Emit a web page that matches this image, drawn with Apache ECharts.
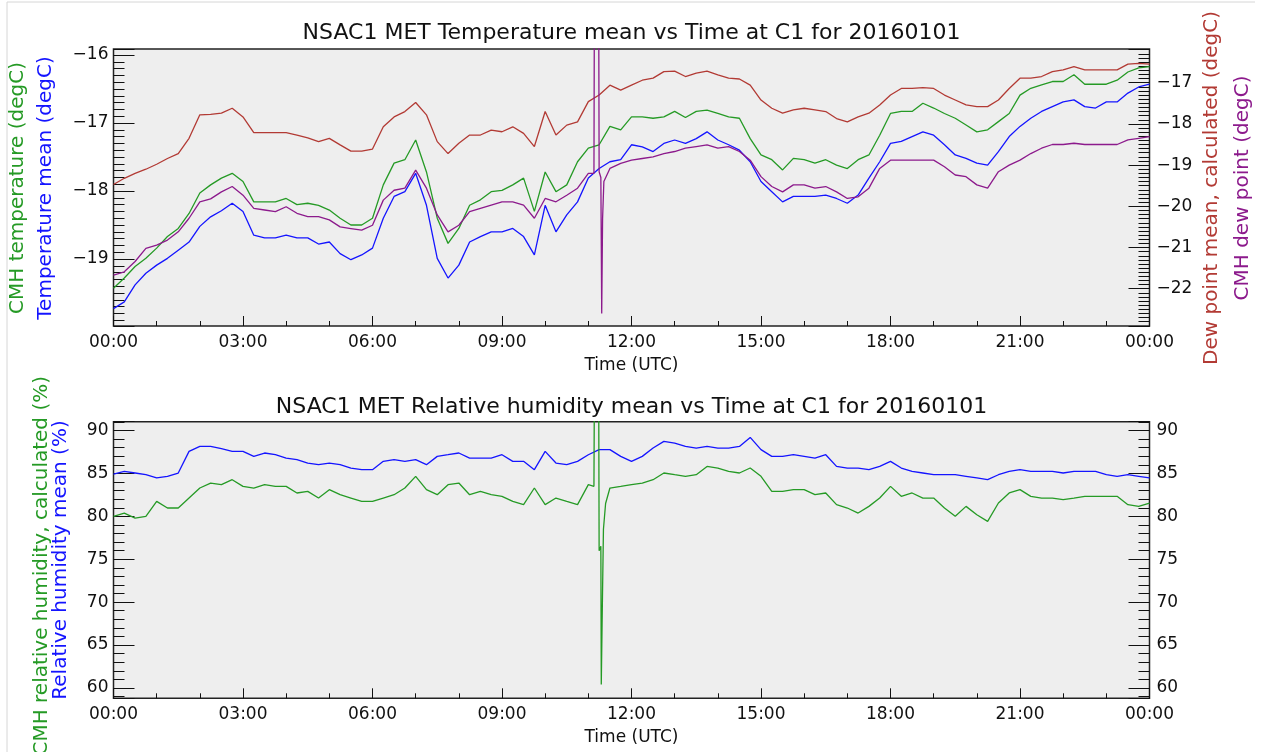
<!DOCTYPE html>
<html>
<head>
<meta charset="utf-8">
<title>NSAC1 MET 20160101</title>
<script src="https://cdn.jsdelivr.net/npm/echarts@6/dist/echarts.min.js"></script>
<style>
    html, body { margin: 0; padding: 0; background: #fff; }
    #main { width: 1263px; height: 752px; }
</style>
</head>
<body>
<div id="main"></div>
<script>
// one sample every 15 minutes, 00:00 .. 24:00
var STEP = 0.25;

// top panel, left axis (degC)
var tempCMH = [
    -19.43, -19.28, -19.11, -18.99, -18.84, -18.67, -18.55, -18.33, -18.03, -17.91, -17.81, -17.74,
    -17.86, -18.16, -18.16, -18.16, -18.11, -18.20, -18.18, -18.21, -18.28, -18.40, -18.50, -18.50,
    -18.40, -17.91, -17.59, -17.54, -17.25, -17.72, -18.40, -18.77, -18.55, -18.21,
    -18.13, -18.01, -17.99, -17.91, -17.81, -18.30, -17.72, -18.01, -17.91, -17.57, -17.37, -17.32,
    -17.05, -17.10, -16.91, -16.91, -16.93, -16.91, -16.83, -16.92, -16.83, -16.81, -16.86, -16.91,
    -16.93, -17.23, -17.47, -17.54, -17.69, -17.52, -17.54, -17.59,
    -17.54, -17.62, -17.67, -17.54, -17.47, -17.18, -16.86, -16.83, -16.83, -16.71, -16.78, -16.86,
    -16.93, -17.03, -17.13, -17.10, -16.98, -16.86, -16.59, -16.49, -16.44, -16.39, -16.39, -16.29,
    -16.43, -16.43, -16.43, -16.37, -16.25, -16.19, -16.17
];
var tempMean = [
    -19.73, -19.63, -19.38, -19.21, -19.09, -18.99, -18.87, -18.75, -18.52, -18.38, -18.29, -18.18,
    -18.30, -18.65, -18.69, -18.69, -18.65, -18.69, -18.69, -18.78, -18.75, -18.92, -19.01, -18.94,
    -18.84, -18.40, -18.08, -18.01, -17.74, -18.21, -18.99, -19.28, -19.09, -18.75,
    -18.67, -18.60, -18.60, -18.55, -18.67, -18.94, -18.21, -18.60, -18.35, -18.16, -17.81, -17.67,
    -17.57, -17.54, -17.32, -17.35, -17.42, -17.30, -17.25, -17.30, -17.23, -17.13, -17.25, -17.32,
    -17.40, -17.57, -17.86, -18.01, -18.16, -18.08, -18.08, -18.08,
    -18.06, -18.11, -18.18, -18.06, -17.81, -17.57, -17.30, -17.27, -17.20, -17.13, -17.18, -17.32,
    -17.47, -17.52, -17.59, -17.62, -17.42, -17.20, -17.05, -16.93, -16.83, -16.76, -16.69, -16.66,
    -16.76, -16.78, -16.69, -16.69, -16.56, -16.47, -16.43
];

// top panel, right axis (degC)
var dewMean = [
    -19.47, -19.32, -19.20, -19.10, -18.98, -18.84, -18.72, -18.35, -17.78, -17.77, -17.74, -17.62,
    -17.83, -18.21, -18.21, -18.21, -18.21, -18.27, -18.34, -18.43, -18.35, -18.51, -18.66, -18.66,
    -18.61, -18.07, -17.83, -17.70, -17.48, -17.78, -18.43, -18.72, -18.47, -18.27,
    -18.27, -18.15, -18.19, -18.07, -18.23, -18.55, -17.70, -18.27, -18.03, -17.95, -17.46, -17.30,
    -17.06, -17.18, -17.06, -16.94, -16.89, -16.73, -16.72, -16.85, -16.77, -16.72, -16.81, -16.89,
    -16.91, -17.06, -17.42, -17.62, -17.74, -17.66, -17.62, -17.66,
    -17.70, -17.87, -17.95, -17.83, -17.74, -17.54, -17.30, -17.14, -17.14, -17.12, -17.14, -17.30,
    -17.42, -17.54, -17.58, -17.58, -17.42, -17.14, -16.89, -16.89, -16.85, -16.73, -16.69, -16.61,
    -16.69, -16.69, -16.69, -16.69, -16.55, -16.53, -16.55
];
var dewCMH = [
    -21.67, -21.59, -21.34, -21.02, -20.94, -20.82, -20.62, -20.29, -19.89, -19.82, -19.65, -19.52,
    -19.73, -20.05, -20.09, -20.13, -20.01, -20.17, -20.25, -20.25, -20.33, -20.50, -20.54, -20.58,
    -20.46, -19.85, -19.61, -19.56, -19.12, -19.56, -20.21, -20.62, -20.46, -20.13,
    -20.05, -19.97, -19.89, -19.89, -19.97, -20.29, -19.81, -19.89, -19.73, -19.56, -19.20, -19.16,
    -19.08, -18.96, -18.88, -18.84, -18.80, -18.72, -18.67, -18.59, -18.55, -18.51, -18.59, -18.55,
    -18.67, -18.88, -19.28, -19.52, -19.65, -19.48, -19.48, -19.56,
    -19.52, -19.65, -19.81, -19.77, -19.56, -19.08, -18.88, -18.88, -18.88, -18.88, -18.88, -19.04,
    -19.24, -19.28, -19.48, -19.56, -19.16, -19.00, -18.88, -18.72, -18.59, -18.50, -18.50, -18.47,
    -18.50, -18.50, -18.50, -18.50, -18.39, -18.35, -18.31
];
// glitch near 11:10 in the CMH dew point
var dewSpikeT = [11.13, 11.14, 11.24, 11.29, 11.31, 11.33, 11.36];
var dewSpikeV = [-19.2, -15.0, -15.0, -19.3, -22.6, -20.3, -19.4];

// bottom panel (%)
var rhCMH = [
    80.00, 80.38, 79.80, 80.00, 81.74, 80.97, 80.97, 82.13, 83.30, 83.88, 83.69, 84.27,
    83.49, 83.30, 83.69, 83.49, 83.49, 82.72, 82.91, 82.13, 83.11, 82.52, 82.13, 81.74,
    81.74, 82.13, 82.52, 83.30, 84.66, 83.11, 82.52, 83.69, 83.88, 82.52,
    82.91, 82.52, 82.33, 81.74, 81.36, 83.30, 81.36, 82.13, 81.74, 81.36, 83.69, 76.00,
    83.30, 83.49, 83.69, 83.88, 84.27, 85.05, 84.85, 84.66, 84.85, 85.82, 85.63, 85.24,
    85.05, 85.63, 84.66, 82.91, 82.91, 83.11, 83.11, 82.52,
    82.72, 81.36, 80.97, 80.38, 81.16, 82.13, 83.49, 82.33, 82.72, 82.13, 82.13, 80.97,
    80.00, 81.16, 80.19, 79.41, 81.55, 82.72, 83.11, 82.33, 82.13, 82.13, 81.94, 82.13,
    82.33, 82.33, 82.33, 82.33, 81.36, 81.16, 81.55
];
var rhMean = [
    84.93, 85.24, 85.05, 84.85, 84.47, 84.66, 85.05, 87.57, 88.15, 88.15, 87.88, 87.57,
    87.57, 86.99, 87.38, 87.18, 86.79, 86.60, 86.21, 86.02, 86.21, 86.02, 85.63, 85.44,
    85.44, 86.41, 86.60, 86.41, 86.60, 86.02, 86.99, 87.18, 87.38, 86.79,
    86.79, 86.79, 87.18, 86.41, 86.41, 85.44, 87.57, 86.21, 86.02, 86.41, 87.18, 87.77,
    87.77, 86.99, 86.41, 86.99, 87.96, 88.74, 88.54, 88.15, 87.96, 88.15, 87.96, 87.96,
    88.15, 89.20, 87.77, 86.99, 86.99, 87.18, 86.99, 86.79,
    87.18, 85.82, 85.63, 85.63, 85.44, 85.82, 86.41, 85.63, 85.24, 85.05, 84.85, 84.85,
    84.85, 84.66, 84.47, 84.27, 84.85, 85.24, 85.44, 85.24, 85.24, 85.24, 85.05, 85.24,
    85.24, 85.24, 84.85, 84.66, 84.85, 84.66, 84.47
];
var rhSpikeT = [11.13, 11.14, 11.24, 11.29, 11.30, 11.32, 11.35, 11.40];
var rhSpikeV = [83.5, 95.0, 95.0, 76.5, 60.4, 68.0, 78.5, 81.5];

var hourLabels = ['00:00', '03:00', '06:00', '09:00', '12:00', '15:00', '18:00', '21:00', '00:00'];

var FONT = 'DejaVu Sans';
var INK = '#111';
var GREEN = '#259a25';
var BLUE = '#1414ff';
var RED = '#b23a34';
var PURPLE = '#8c1a8c';

// sample list (+ optional extra points) -> [hour, value] pairs sorted by time
function toPairs(list, extraT, extraV) {
    var out = [];
    list.forEach(function (v, i) {
        out.push([i * STEP, v]);
    });
    if (extraT) {
        extraT.forEach(function (t, i) {
            out.push([t, extraV[i]]);
        });
        out.sort(function (a, b) { return a[0] - b[0]; });
    }
    return out;
}

function intLabel(v) {
    var r = Math.round(v);
    if (Math.abs(v - r) > 1e-6) {
        return '';
    }
    return r < 0 ? '\u2212' + Math.abs(r) : '' + r;
}

function xAxisOpt(idx) {
    return {
        gridIndex: idx,
        type: 'value',
        min: 0,
        max: 24,
        interval: 3,
        axisLine: { show: false },
        axisTick: { inside: true, length: 10, lineStyle: { color: INK, width: 1 } },
        minorTick: { show: true, splitNumber: 3, length: 5, lineStyle: { color: INK, width: 1 } },
        splitLine: { show: false },
        axisLabel: {
            margin: 8, fontSize: 17, color: INK, fontFamily: FONT,
            formatter: function (v) { return hourLabels[Math.round(v / 3)]; }
        },
        name: 'Time (UTC)',
        nameLocation: 'middle',
        nameGap: 31,
        nameTextStyle: { fontSize: 17, color: INK, fontFamily: FONT }
    };
}

function yAxisOpt(idx, pos, min, max, split, minorSplit, fmt) {
    return {
        gridIndex: idx,
        type: 'value',
        position: pos,
        min: min,
        max: max,
        splitNumber: split,
        axisLine: { show: false },
        axisTick: { inside: true, length: 21, lineStyle: { color: INK, width: 1 } },
        minorTick: { show: true, splitNumber: minorSplit, length: 11, lineStyle: { color: INK, width: 1 } },
        splitLine: { show: false },
        axisLabel: { margin: pos == 'left' ? 5 : 7, fontSize: 17, color: INK, fontFamily: FONT, formatter: fmt }
    };
}

function lineSeries(x, y, data, color) {
    return {
        type: 'line',
        xAxisIndex: x,
        yAxisIndex: y,
        data: data,
        symbol: 'none',
        silent: true,
        lineStyle: { color: color, width: 1.3 },
        itemStyle: { color: color }
    };
}

function sideName(text, color, x, y, align) {
    return {
        type: 'text',
        x: x,
        y: y,
        rotation: Math.PI / 2,
        silent: true,
        style: {
            text: text,
            fill: color,
            font: '20px "' + FONT + '"',
            align: align || 'center',
            verticalAlign: 'middle'
        }
    };
}

var chart = echarts.init(document.getElementById('main'), null, { renderer: 'canvas' });

var option = {
    animation: false,
    backgroundColor: '#fff',
    title: [{
        text: 'NSAC1 MET Temperature mean vs Time at C1 for 20160101',
        left: 'center', top: 22, padding: 0,
        textStyle: { fontSize: 22, fontWeight: 'normal', color: INK, fontFamily: FONT }
    }, {
        text: 'NSAC1 MET Relative humidity mean vs Time at C1 for 20160101',
        left: 'center', top: 396, padding: 0,
        textStyle: { fontSize: 22, fontWeight: 'normal', color: INK, fontFamily: FONT }
    }],
    grid: [{
        left: 113.5, top: 49, width: 1036, height: 277,
        show: true, backgroundColor: '#eeeeee', borderColor: '#222', borderWidth: 1.5
    }, {
        left: 113.5, top: 421.7, width: 1036, height: 276.6,
        show: true, backgroundColor: '#eeeeee', borderColor: '#222', borderWidth: 1.5
    }],
    xAxis: [xAxisOpt(0), xAxisOpt(1)],
    yAxis: [
        yAxisOpt(0, 'left', -19.985, -15.912, 4, 10, intLabel),
        yAxisOpt(0, 'right', -22.905, -16.182, 6, 10, intLabel),
        yAxisOpt(1, 'left', 58.79, 91.03, 6, 5, intLabel),
        yAxisOpt(1, 'right', 58.79, 91.03, 6, 5, intLabel)
    ],
    series: [
        lineSeries(0, 1, toPairs(dewMean), RED),
        lineSeries(0, 0, toPairs(tempCMH), GREEN),
        lineSeries(0, 0, toPairs(tempMean), BLUE),
        lineSeries(0, 1, toPairs(dewCMH, dewSpikeT, dewSpikeV), PURPLE),
        lineSeries(1, 2, toPairs(rhMean), BLUE),
        lineSeries(1, 2, toPairs(rhCMH, rhSpikeT, rhSpikeV), GREEN)
    ],
    graphic: [
        { type: 'line', silent: true, shape: { x1: 7, y1: 2, x2: 1255, y2: 2 }, style: { stroke: '#d6d6d6', lineWidth: 1 } },
        { type: 'line', silent: true, shape: { x1: 7, y1: 2, x2: 7, y2: 752 }, style: { stroke: '#d6d6d6', lineWidth: 1 } },
        sideName('CMH temperature (degC)', GREEN, 18, 188),
        sideName('Temperature mean (degC)', BLUE, 46, 188),
        sideName('Dew point mean, calculated (degC)', RED, 1212, 188),
        sideName('CMH dew point (degC)', PURPLE, 1243, 188),
        sideName('CMH relative humidity, calculated (%)', GREEN, 42, 376, 'right'),
        sideName('Relative humidity mean (%)', BLUE, 61, 560)
    ]
};

chart.setOption(option);
</script>
</body>
</html>
